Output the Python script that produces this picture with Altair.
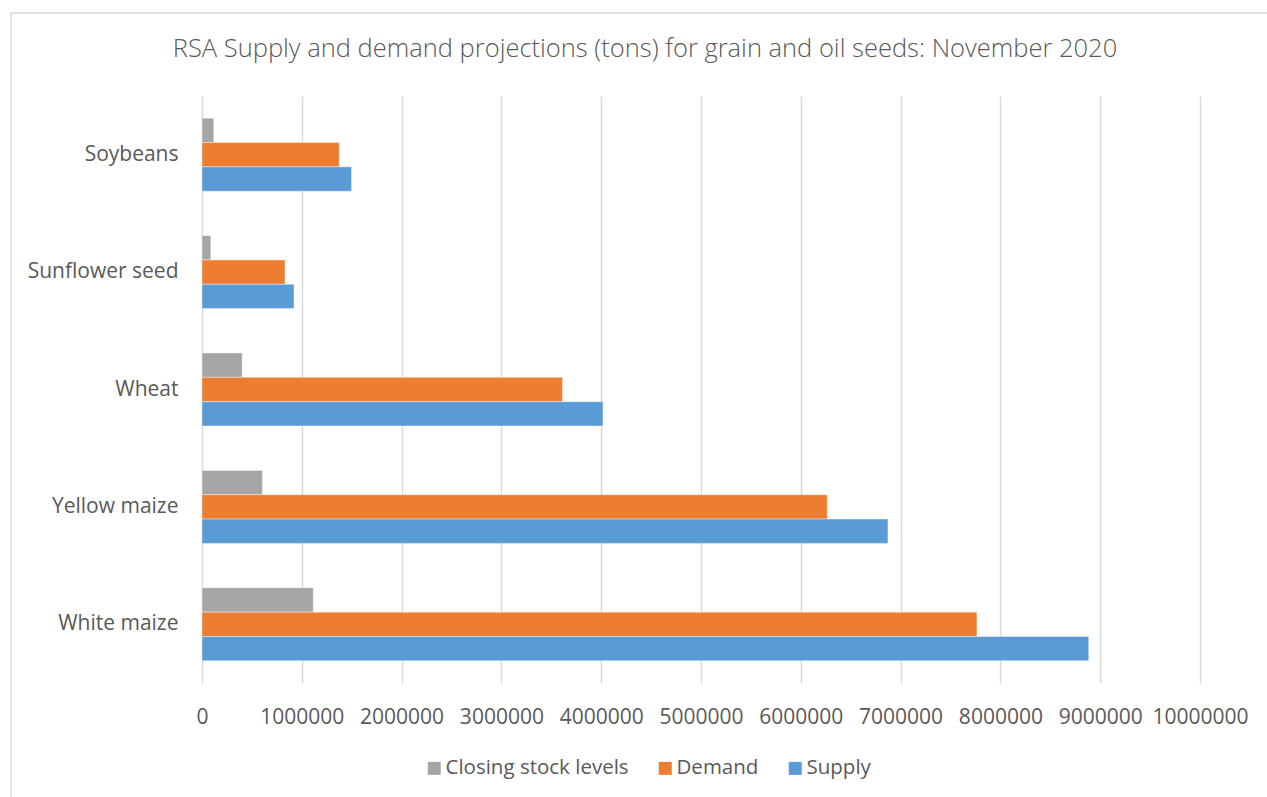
import altair as alt
import pandas as pd

# RSA supply and demand projections (tons), November 2020
crops = ["Soybeans", "Sunflower seed", "Wheat", "Yellow maize", "White maize"]
closing_stock = [118000, 88000, 402000, 605000, 1115000]
demand = [1375000, 832000, 3612000, 6265000, 7765000]
supply = [1498000, 922000, 4018000, 6873000, 8885000]

series_names = ["Closing stock levels", "Demand", "Supply"]
series_colors = ["#A5A5A5", "#ED7D31", "#5B9BD5"]
x_ticks = list(range(0, 10000001, 1000000))

rows = []
for i, crop in enumerate(crops):
    for name, values in zip(series_names, [closing_stock, demand, supply]):
        rows.append({"crop": crop, "series": name, "tons": values[i]})
df = pd.DataFrame(rows)

FONT = "Open Sans"
TEXT = "#595959"
GRID = "#D9D9D9"

bars = alt.Chart(df).mark_bar(stroke="white", strokeWidth=0.4).encode(
    x=alt.X(
        "tons:Q",
        scale=alt.Scale(domain=[0, 10000000], nice=False, zero=True),
        axis=alt.Axis(
            values=x_ticks,
            format="d",
            title=None,
            grid=True,
            gridColor=GRID,
            gridWidth=1.5,
            domain=False,
            ticks=False,
            labelFont=FONT,
            labelFontSize=21,
            labelColor=TEXT,
            labelPadding=23,
            labelFlush=False,
        ),
    ),
    y=alt.Y(
        "crop:N",
        sort=crops,
        scale=alt.Scale(paddingInner=0.378, paddingOuter=0.189),
        axis=alt.Axis(
            title=None,
            domain=False,
            ticks=False,
            grid=False,
            labelFont=FONT,
            labelFontSize=21,
            labelColor=TEXT,
            labelPadding=24,
        ),
    ),
    yOffset=alt.YOffset(
        "series:N",
        sort=series_names,
        scale=alt.Scale(paddingInner=0, paddingOuter=0),
    ),
    color=alt.Color(
        "series:N",
        sort=series_names,
        scale=alt.Scale(domain=series_names, range=series_colors),
        legend=alt.Legend(
            title=None,
            orient="none",
            direction="horizontal",
            legendX=222,
            legendY=662,
            symbolType="square",
            symbolSize=169,
            symbolStrokeWidth=0,
            labelFont=FONT,
            labelFontSize=20.5,
            labelColor=TEXT,
            labelOffset=1,
            labelLimit=400,
            columnPadding=26,
        ),
    ),
)

# light outer frame of the chart area (left and top edges)
frame_left = alt.Chart(alt.Data(values=[{}])).mark_rule(
    color=GRID, strokeWidth=1.5
).encode(x=alt.value(-191), y=alt.value(-83), y2=alt.value(701))
frame_top = alt.Chart(alt.Data(values=[{}])).mark_rule(
    color=GRID, strokeWidth=1.5
).encode(x=alt.value(-191), x2=alt.value(1065), y=alt.value(-83))

chart = alt.layer(frame_left, frame_top, bars).properties(
    width=998,
    height=587,
    autosize=alt.AutoSizeParams(type="none"),
    padding={"left": 202, "top": 96, "right": 67, "bottom": 114},
    background="white",
    title=alt.Title(
        "RSA Supply and demand projections (tons) for grain and oil seeds: November 2020",
        font=FONT,
        fontSize=25.5,
        fontWeight=300,
        color=TEXT,
        anchor="middle",
        frame="group",
        dx=-56,
        dy=50,
        offset=0,
    ),
).configure_view(stroke=None)

chart.save("out.html", embed_options={"renderer": "svg", "actions": False})
